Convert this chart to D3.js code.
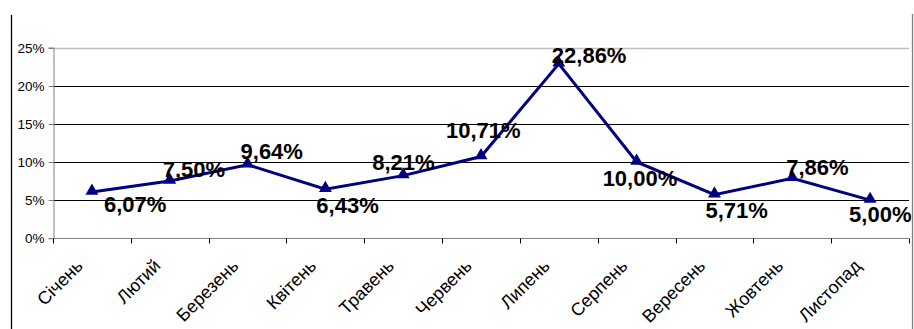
<!DOCTYPE html>
<html>
<head>
<meta charset="utf-8">
<script src="https://cdn.jsdelivr.net/npm/d3@7"></script>
<style>
html,body{margin:0;padding:0;background:#fff;}
svg{display:block;font-family:Arial,"Liberation Sans",sans-serif;}
</style>
</head>
<body>
<svg id="chart" width="914" height="329"></svg>
<script>
// ---- data ----
const months = ["Січень","Лютий","Березень","Квітень","Травень","Червень","Липень","Серпень","Вересень","Жовтень","Листопад"];
const values = [6.07, 7.50, 9.64, 6.43, 8.21, 10.71, 22.86, 10.00, 5.71, 7.86, 5.00];
const valueLabels = ["6,07%","7,50%","9,64%","6,43%","8,21%","10,71%","22,86%","10,00%","5,71%","7,86%","5,00%"];
const yTicks = [0, 5, 10, 15, 20, 25];
const yTickLabels = ["0%","5%","10%","15%","20%","25%"];

// ---- layout (label offsets from their point: text left dx, baseline dy) ----
const labelOffsets = [[12,20],[-7,-4],[-7,-6],[-9,24],[-31,-6],[-35,-19],[-7,-1],[-34,24],[-9,23],[-6,-3],[-21,22]];

const svg = d3.select("#chart");
const x0 = 53, x1 = 909, yTop = 47.5, yBot = 238.3;

const x = d3.scaleBand().domain(months).range([x0, x1]).paddingInner(0).paddingOuter(0);
const y = d3.scaleLinear().domain([0, 25]).range([yBot, yTop]);

// outer borders
svg.append("line").attr("x1",11.5).attr("x2",11.5).attr("y1",15).attr("y2",329)
  .attr("stroke","#000").attr("stroke-width",1.3);
svg.append("line").attr("x1",912.5).attr("x2",912.5).attr("y1",14).attr("y2",329)
  .attr("stroke","#808080").attr("stroke-width",1.3);

// gridlines
svg.append("g").selectAll("line").data(yTicks.filter(t => t > 0)).join("line")
  .attr("x1", x0).attr("x2", x1)
  .attr("y1", d => Math.round(y(d)) + 0.5).attr("y2", d => Math.round(y(d)) + 0.5)
  .attr("stroke", d => d === 25 ? "#c0c0c0" : "#000")
  .attr("stroke-width", d => d === 25 ? 1.5 : 1);

// y axis
const yAxis = d3.axisLeft(y).tickValues(yTicks).tickFormat((d,i) => yTickLabels[i]).tickSize(5).tickPadding(4);
const gy = svg.append("g").attr("transform", `translate(${x0 + 0.5},0)`).call(yAxis);
gy.select(".domain").attr("stroke","#808080");
gy.selectAll(".tick line").attr("stroke","#808080");
gy.selectAll(".tick").attr("transform", d => `translate(0,${Math.round(y(d)) + 0.5})`);
gy.selectAll("text").attr("font-size","13.5px").attr("fill","#000").attr("font-family","Arial, 'Liberation Sans', sans-serif");

// x axis (ticks at category boundaries)
const gx = svg.append("g").attr("transform", `translate(0,${Math.round(yBot) + 0.5})`);
gx.append("line").attr("x1", x0).attr("x2", x1).attr("stroke","#808080");
const bounds = months.map(m => x(m)).concat([x1]);
gx.selectAll("line.tk").data(bounds).join("line").attr("class","tk")
  .attr("x1", d => Math.round(d) + 0.5).attr("x2", d => Math.round(d) + 0.5)
  .attr("y1", 0).attr("y2", 5).attr("stroke","#000");
svg.append("g").selectAll("text").data(months).join("text")
  .attr("transform", d => `translate(${x(d) + x.bandwidth()/2 - 8},267) rotate(-45)`)
  .attr("text-anchor","end")
  .attr("font-size","18px")
  .attr("fill","#000")
  .text(d => d);

// line
const cx = (d,i) => x(months[i]) + x.bandwidth()/2;
const line = d3.line().x((d,i) => cx(d,i)).y(d => y(d));
svg.append("path").datum(values).attr("d", line)
  .attr("fill","none").attr("stroke","#000080").attr("stroke-width",3).attr("stroke-linejoin","miter");

// markers
const tri = d3.symbol(d3.symbolTriangle, 72);
svg.append("g").selectAll("path").data(values).join("path")
  .attr("d", tri)
  .attr("transform", (d,i) => `translate(${cx(d,i)},${y(d) - 1})`)
  .attr("fill","#000080");

// value labels
svg.append("g").selectAll("text").data(values).join("text")
  .attr("x", (d,i) => cx(d,i) + labelOffsets[i][0])
  .attr("y", (d,i) => y(d) + labelOffsets[i][1])
  .attr("font-size","22px").attr("font-weight","bold").attr("fill","#000")
  .text((d,i) => valueLabels[i]);
</script>
</body>
</html>
